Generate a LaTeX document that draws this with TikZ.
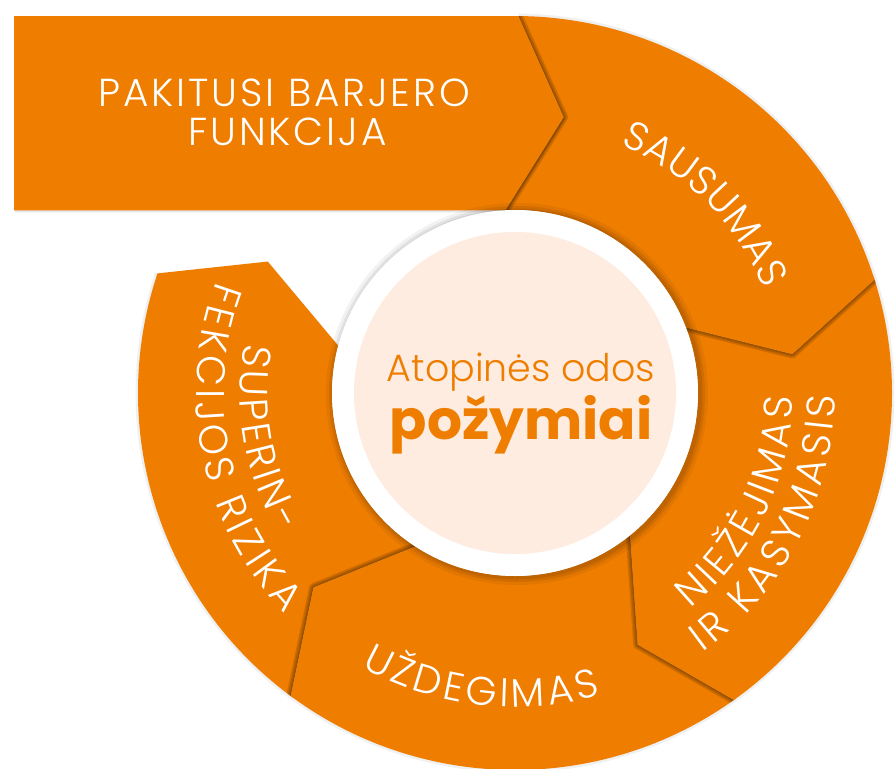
\documentclass[tikz,border=0pt]{standalone}
\usepackage{fontspec}
\setmainfont{Poppins}
\IfFontExistsTF{Poppins Light}{\newfontfamily\lightfam{Poppins Light}[LetterSpace=7.5]}{\newfontfamily\lightfam{Poppins}[LetterSpace=7.5]}
\IfFontExistsTF{Poppins Light}{\newfontfamily\lightplain{Poppins Light}}{\newfontfamily\lightplain{Poppins}}
\usetikzlibrary{calc,decorations.text}
\definecolor{orng}{RGB}{238,125,0}
\definecolor{peach}{RGB}{253,236,223}
\newcommand\ringfont{\lightplain\fontsize{40}{40}\selectfont}
\newcommand\tipshade[1]{\foreach \w in {9,6,3}{\draw[tipshadow=\w pt] #1;}}
\begin{document}
\begin{tikzpicture}[x=1pt,y=1pt,
  segment/.style={fill=orng},
  tipshadow/.style={draw=black, line width=#1, opacity=0.13, line join=round, line cap=round},
  ringlabel/.style={decorate, decoration={text along path, text align={fit to path}, text color=white, text={#1}}},
  bantext/.style={text=white, anchor=base, inner sep=0pt, font=\lightfam\fontsize{39}{39}\selectfont},
  centertext/.style={text=orng, anchor=base, inner sep=0pt}]
\useasboundingbox (0,0) rectangle (895,-769);
\coordinate (C) at (515,-393);
\foreach \n/\a/\b/\c in {1/93/80/89.5, 2/21/8/17.5, 3/-51/-64/-54.5, 4/-123/-136/-126.5, 5/-195/-208/-198.5} {
  \coordinate (i\n) at ($(C)+(\a:183pt)$);
  \coordinate (m\n) at ($(C)+(\b:280pt)$);
  \coordinate (o\n) at ($(C)+(\c:377pt)$);
}
\coordinate (bl) at (14,-16);
% faint outer rim shadow
\draw[black, opacity=0.06, line width=3pt] ($(C)+(89.5:378pt)$) arc[start angle=89.5, end angle=-198.5, radius=378];
% SUPERINFEKCIJOS
\fill[segment] (o4) arc[start angle=-126.5, end angle=-198.5, radius=377] -- (m5) -- (i5) arc[start angle=-195, end angle=-123, radius=183] -- (m4) -- cycle;
\begin{scope}
\clip (C) circle[radius=377];
\tipshade{(o4) -- (m4) -- (i4)}
\end{scope}
% UZDEGIMAS
\fill[segment] (o3) arc[start angle=-54.5, end angle=-126.5, radius=377] -- (m4) -- (i4) arc[start angle=-123, end angle=-51, radius=183] -- (m3) -- cycle;
\begin{scope}
\clip (C) circle[radius=377];
\tipshade{(o3) -- (m3) -- (i3)}
\end{scope}
% NIEZEJIMAS
\fill[segment] (o2) arc[start angle=17.5, end angle=-54.5, radius=377] -- (m3) -- (i3) arc[start angle=-51, end angle=21, radius=183] -- (m2) -- cycle;
\begin{scope}
\clip (C) circle[radius=377];
\tipshade{(o2) -- (m2) -- (i2)}
\end{scope}
% SAUSUMAS
\fill[segment] (o1) arc[start angle=89.5, end angle=17.5, radius=377] -- (m2) -- (i2) arc[start angle=21, end angle=93, radius=183] -- (m1) -- cycle;
\begin{scope}
\clip (C) circle[radius=377];
\tipshade{(o1) -- (m1) -- (i1)}
\end{scope}
% banner
\fill[black, opacity=0.10] ($(bl)+(1,-2)$) -- ($(o1)+(1,-2)$) -- ($(m1)+(1,-2)$) -- ($(i1)+(1,-2)$) -- ($(bl |- i1)+(1,-2)$) -- cycle;
\fill[segment] (bl) -- (o1) -- (m1) -- (i1) -- (bl |- i1) -- cycle;
% white disk with soft shadow
\foreach \r/\op in {191/0.05, 188/0.07, 185.5/0.09} {
  \fill[black, opacity=\op] ($(C)+(2,-1)$) circle[radius=\r];
}
\fill[white] (C) circle[radius=183];
\fill[peach] (C) circle[radius=161];
% ring labels
\path[ringlabel={|\ringfont|SAUSUMAS}] ($(C)+(67:270pt)$) arc[start angle=67, end angle=22.6, radius=270];
\path[ringlabel={|\ringfont|NIEŽĖJIMAS}] ($(C)+(-50.8:278pt)$) arc[start angle=-50.8, end angle=-0.8, radius=278];
\path[ringlabel={|\ringfont|IR KASYMASIS}] ($(C)+(-54.2:320pt)$) arc[start angle=-54.2, end angle=-0.4, radius=320];
\path[ringlabel={|\ringfont|UŽDEGIMAS}] ($(C)+(-119.3:314pt)$) arc[start angle=-119.3, end angle=-74.2, radius=314];
\path[ringlabel={|\ringfont|SUPERIN-}] ($(C)+(169.6:275pt)$) arc[start angle=169.6, end angle=210.7, radius=275];
\path[ringlabel={|\ringfont|FEKCIJOS RIZIKA}] ($(C)+(159.5:319pt)$) arc[start angle=159.5, end angle=223.8, radius=319];
% banner text
\node[bantext] (ban1) at (284,-106.7) {PAKITUSI BARJERO};
\node[bantext] (ban2) at (287.5,-145) {FUNKCIJA};
% centre text
\node[centertext, font=\lightplain\fontsize{38}{38}\selectfont] (ctr1) at (521,-381.7) {Atopinės odos};
\node[centertext, font=\bfseries\fontsize{55}{55}\selectfont] (ctr2) at (521,-439) {požymiai};
\end{tikzpicture}
\end{document}
